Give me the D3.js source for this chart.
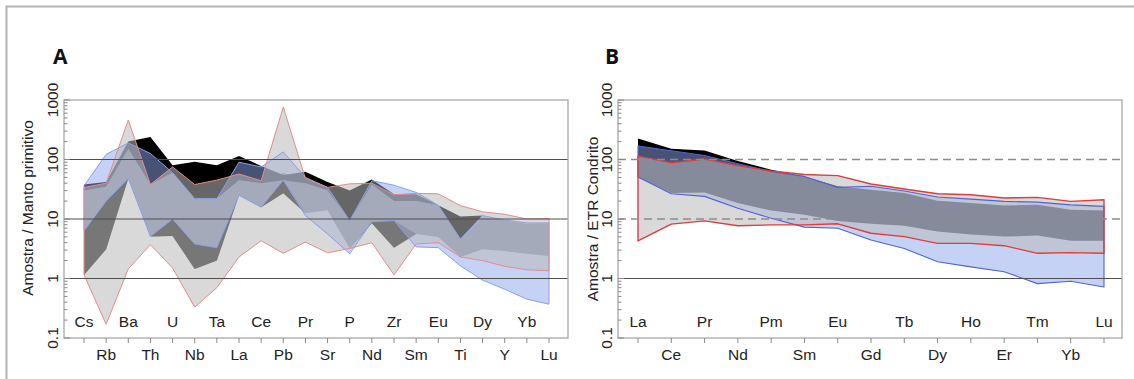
<!DOCTYPE html>
<html>
<head>
<meta charset="utf-8">
<script src="https://cdn.jsdelivr.net/npm/d3@7"></script>
<style>
  body { margin: 0; background: #fff; }
  svg { display: block; }
  text { font-family: "Liberation Sans", Arial, sans-serif; fill: #222; }
</style>
</head>
<body>
<svg id="chart" width="1134" height="379"></svg>
<script>
// ---- panel A : primitive mantle normalised spider diagram
const elementsA = ["Cs","Rb","Ba","Th","U","Nb","Ta","La","Ce","Pb","Pr","Sr","P","Nd","Zr","Sm","Eu","Ti","Dy","Y","Yb","Lu"];
const redUpA   = [34, 40, 460, 38, 75, 38, 45, 57, 44, 760, 48, 34, 39, 40, 25.5, 27, 26.5, 16.8, 13.2, 12, 10, 10.2];
const redLoA   = [1.15, 0.17, 1.45, 3.7, 1.5, 0.33, 0.7, 2.3, 4.3, 2.65, 4.1, 2.7, 3.2, 4.0, 1.15, 3.8, 4.0, 2.3, 2.0, 1.6, 1.4, 1.35];
const blueUpA  = [36, 122, 190, 126, 60, 22, 22, 90, 75, 134, 50, 34, 9.4, 44, 37, 28, 17, 4.6, 11.4, 9.6, 8.6, 8.6];
const blueLoA  = [6.3, 20, 48, 5.1, 10, 3.8, 3.3, 25, 15.8, 45, 11.4, 5.6, 2.6, 9, 9.4, 3.4, 3.3, 1.63, 0.94, 0.66, 0.45, 0.37];
const blackUpA = [38, 42, 200, 240, 80, 92, 80, 115, 78, 55, 62, 42, 30, 46, 26, 26, 17, 11, 11.4, 9.6, 8.6, 8.6];
const blackLoA = [30, 35, 150, 38, 60, 22, 22, 45, 40, 45, 40, 30, 9.4, 38, 20, 20, 17, 4.6, 11.4, 9.6, 8.6, 8.6];
const darkUpA  = [30, 35, 150, 38, 60, 22, 22, 45, 40, 60, 40, 30, 9.4, 38, 20, 20, 17, 4.6, 10.7, 9.4, 8.3, 8.5];
const darkLoA  = [1.15, 3.1, 48, 5.1, 5.2, 1.45, 2.0, 25, 15.8, 27, 12.5, 14, 3.2, 8.5, 3.3, 5.6, 5, 2.3, 3.1, 2.9, 2.6, 2.4];

// ---- panel B : chondrite normalised REE
const elementsB = ["La","Ce","Pr","Nd","Pm","Sm","Eu","Gd","Tb","Dy","Ho","Er","Tm","Yb","Lu"];
const redUpB   = [114, 88, 102, 79, 64, 56, 53.6, 38.8, 31.9, 26.6, 25.6, 22.5, 23.1, 19.8, 21.1];
const redLoB   = [4.27, 8.2, 9.3, 7.7, 7.96, 7.96, 8.3, 5.76, 5.06, 3.9, 3.9, 3.56, 2.65, 2.72, 2.65];
const blueUpB  = [168, 140, 117, 85, 63, 52, 34, 35.5, 29.5, 23.4, 21.6, 19.8, 19.2, 17.3, 16.3];
const blueLoB  = [51, 26.5, 24, 15.2, 10.3, 7.3, 7.0, 4.45, 3.2, 1.91, 1.57, 1.3, 0.82, 0.90, 0.72];
const blackUpB = [226, 151, 142, 94, 67.5, 52, 35.5, 31, 27.3, 20.3, 18.5, 16.9, 17.3, 14.3, 13.9];
const blackLoB = [51, 27.3, 28, 18.5, 13.9, 11.8, 9.3, 8.3, 7.7, 6.15, 5.5, 5.06, 5.26, 4.33, 4.33];

const yTicks = [0.1, 1, 10, 100, 1000];

const svg = d3.select("#chart");

// outer frame (top + left)
svg.append("path")
  .attr("d", "M6.5,379V6.5H1134")
  .attr("fill", "none")
  .attr("stroke", "#b4b4b4")
  .attr("stroke-width", 2);

function zip(lo, up) {
  return lo.map((v, i) => [v, up[i]]);
}

function drawPanel(p) {
  const x = d3.scalePoint().domain(p.elements).range(p.xRange);
  const y = d3.scaleLog().domain([0.1, 1000]).range([338, 100]);
  const g = svg.append("g");

  const clipId = "clip" + p.letter;
  svg.append("clipPath").attr("id", clipId)
    .append("rect")
    .attr("x", p.left).attr("y", 100)
    .attr("width", p.right - p.left).attr("height", 238);

  const area = d3.area()
    .x((d, i) => x(p.elements[i]))
    .y0(d => y(d[0]))
    .y1(d => y(d[1]));

  const layers = g.append("g").attr("clip-path", `url(#${clipId})`);
  p.layers.forEach(l => {
    layers.append("path")
      .datum(zip(l.lo, l.up))
      .attr("d", area)
      .attr("fill", l.fill)
      .attr("fill-opacity", l.opacity);
  });
  // outlines on top
  p.layers.filter(l => l.stroke).forEach(l => {
    layers.append("path")
      .datum(zip(l.lo, l.up))
      .attr("d", area)
      .attr("fill", "none")
      .attr("stroke", l.stroke)
      .attr("stroke-width", l.strokeWidth)
      .attr("stroke-linejoin", "round");
  });

  // horizontal reference lines
  [1, 10, 100].forEach(v => {
    const dashed = p.dashed && v !== 1;
    g.append("line")
      .attr("x1", p.left).attr("x2", p.right)
      .attr("y1", y(v)).attr("y2", y(v))
      .attr("stroke", dashed ? "#8c8c8c" : "#4d4d4d")
      .attr("stroke-width", dashed ? 1.3 : 1)
      .attr("stroke-dasharray", dashed ? "8,5" : null);
  });

  // plot box
  g.append("rect")
    .attr("x", p.left).attr("y", 100)
    .attr("width", p.right - p.left).attr("height", 238)
    .attr("fill", "none")
    .attr("stroke", "#a8a8a8")
    .attr("stroke-width", 1.3);

  // log ticks on the left axis
  y.ticks().forEach(t => {
    const major = Math.abs(Math.log10(t) - Math.round(Math.log10(t))) < 1e-6;
    g.append("line")
      .attr("x1", p.left).attr("x2", p.left + (major ? 6 : 3.5))
      .attr("y1", y(t)).attr("y2", y(t))
      .attr("stroke", "#888").attr("stroke-width", 1);
  });
  yTicks.forEach(t => {
    g.append("text")
      .attr("transform", `translate(${p.left - 6},${y(t)}) rotate(-90)`)
      .attr("text-anchor", "middle")
      .style("font-size", "15.5px")
      .text(t);
  });

  // category ticks and staggered labels
  p.elements.forEach((e, i) => {
    g.append("line")
      .attr("x1", x(e)).attr("x2", x(e))
      .attr("y1", 338).attr("y2", 343)
      .attr("stroke", "#888").attr("stroke-width", 1);
    g.append("text")
      .attr("x", x(e))
      .attr("y", i % 2 === 0 ? 327 : 360)
      .attr("text-anchor", "middle")
      .style("font-size", "15.5px")
      .text(e);
  });

  // axis title
  g.append("text")
    .attr("transform", `translate(${p.titleX},${p.titleY}) rotate(-90)`)
    .attr("text-anchor", "middle")
    .style("font-size", "15.5px")
    .text(p.title);

  // panel letter
  g.append("text")
    .attr("x", p.letterX).attr("y", 64)
    .style("font-family", "'Open Sans', 'DejaVu Sans', sans-serif")
    .style("font-weight", "bold")
    .style("font-size", "21px")
    .style("fill", "#111")
    .text(p.letter);
}

const blueFill = "rgb(140,165,235)";
const greyFill = "rgb(185,185,185)";

// darker wedges: part of the dark field that sits below the blue field
const wedgeUpA = darkUpA.map((v, i) => Math.max(darkLoA[i], Math.min(v, blueLoA[i])));

drawPanel({
  letter: "A", letterX: 53,
  elements: elementsA, xRange: [84, 549],
  left: 64, right: 568, titleX: 33, titleY: 208,
  title: "Amostra / Manto primitivo",
  dashed: false,
  layers: [
    { lo: darkLoA, up: darkUpA, fill: "#888888", opacity: 1 },
    { lo: darkLoA, up: wedgeUpA, fill: "#262626", opacity: 1 },
    { lo: blackLoA, up: blackUpA, fill: "#000", opacity: 1 },
    { lo: blueLoA, up: blueUpA, fill: blueFill, opacity: 0.5, stroke: "#8aa0e8", strokeWidth: 1 },
    { lo: redLoA, up: redUpA, fill: greyFill, opacity: 0.55, stroke: "#e58c8c", strokeWidth: 1 }
  ]
});

drawPanel({
  letter: "B", letterX: 605,
  elements: elementsB, xRange: [638, 1104],
  left: 618, right: 1122, titleX: 598, titleY: 219,
  title: "Amostra / ETR Condrito",
  dashed: true,
  layers: [
    { lo: blackLoB, up: blackUpB, fill: "#000", opacity: 1 },
    { lo: blueLoB, up: blueUpB, fill: blueFill, opacity: 0.5, stroke: "#4f63d8", strokeWidth: 1.1 },
    { lo: redLoB, up: redUpB, fill: greyFill, opacity: 0.55, stroke: "#e03c3c", strokeWidth: 1.4 }
  ]
});
</script>
</body>
</html>
